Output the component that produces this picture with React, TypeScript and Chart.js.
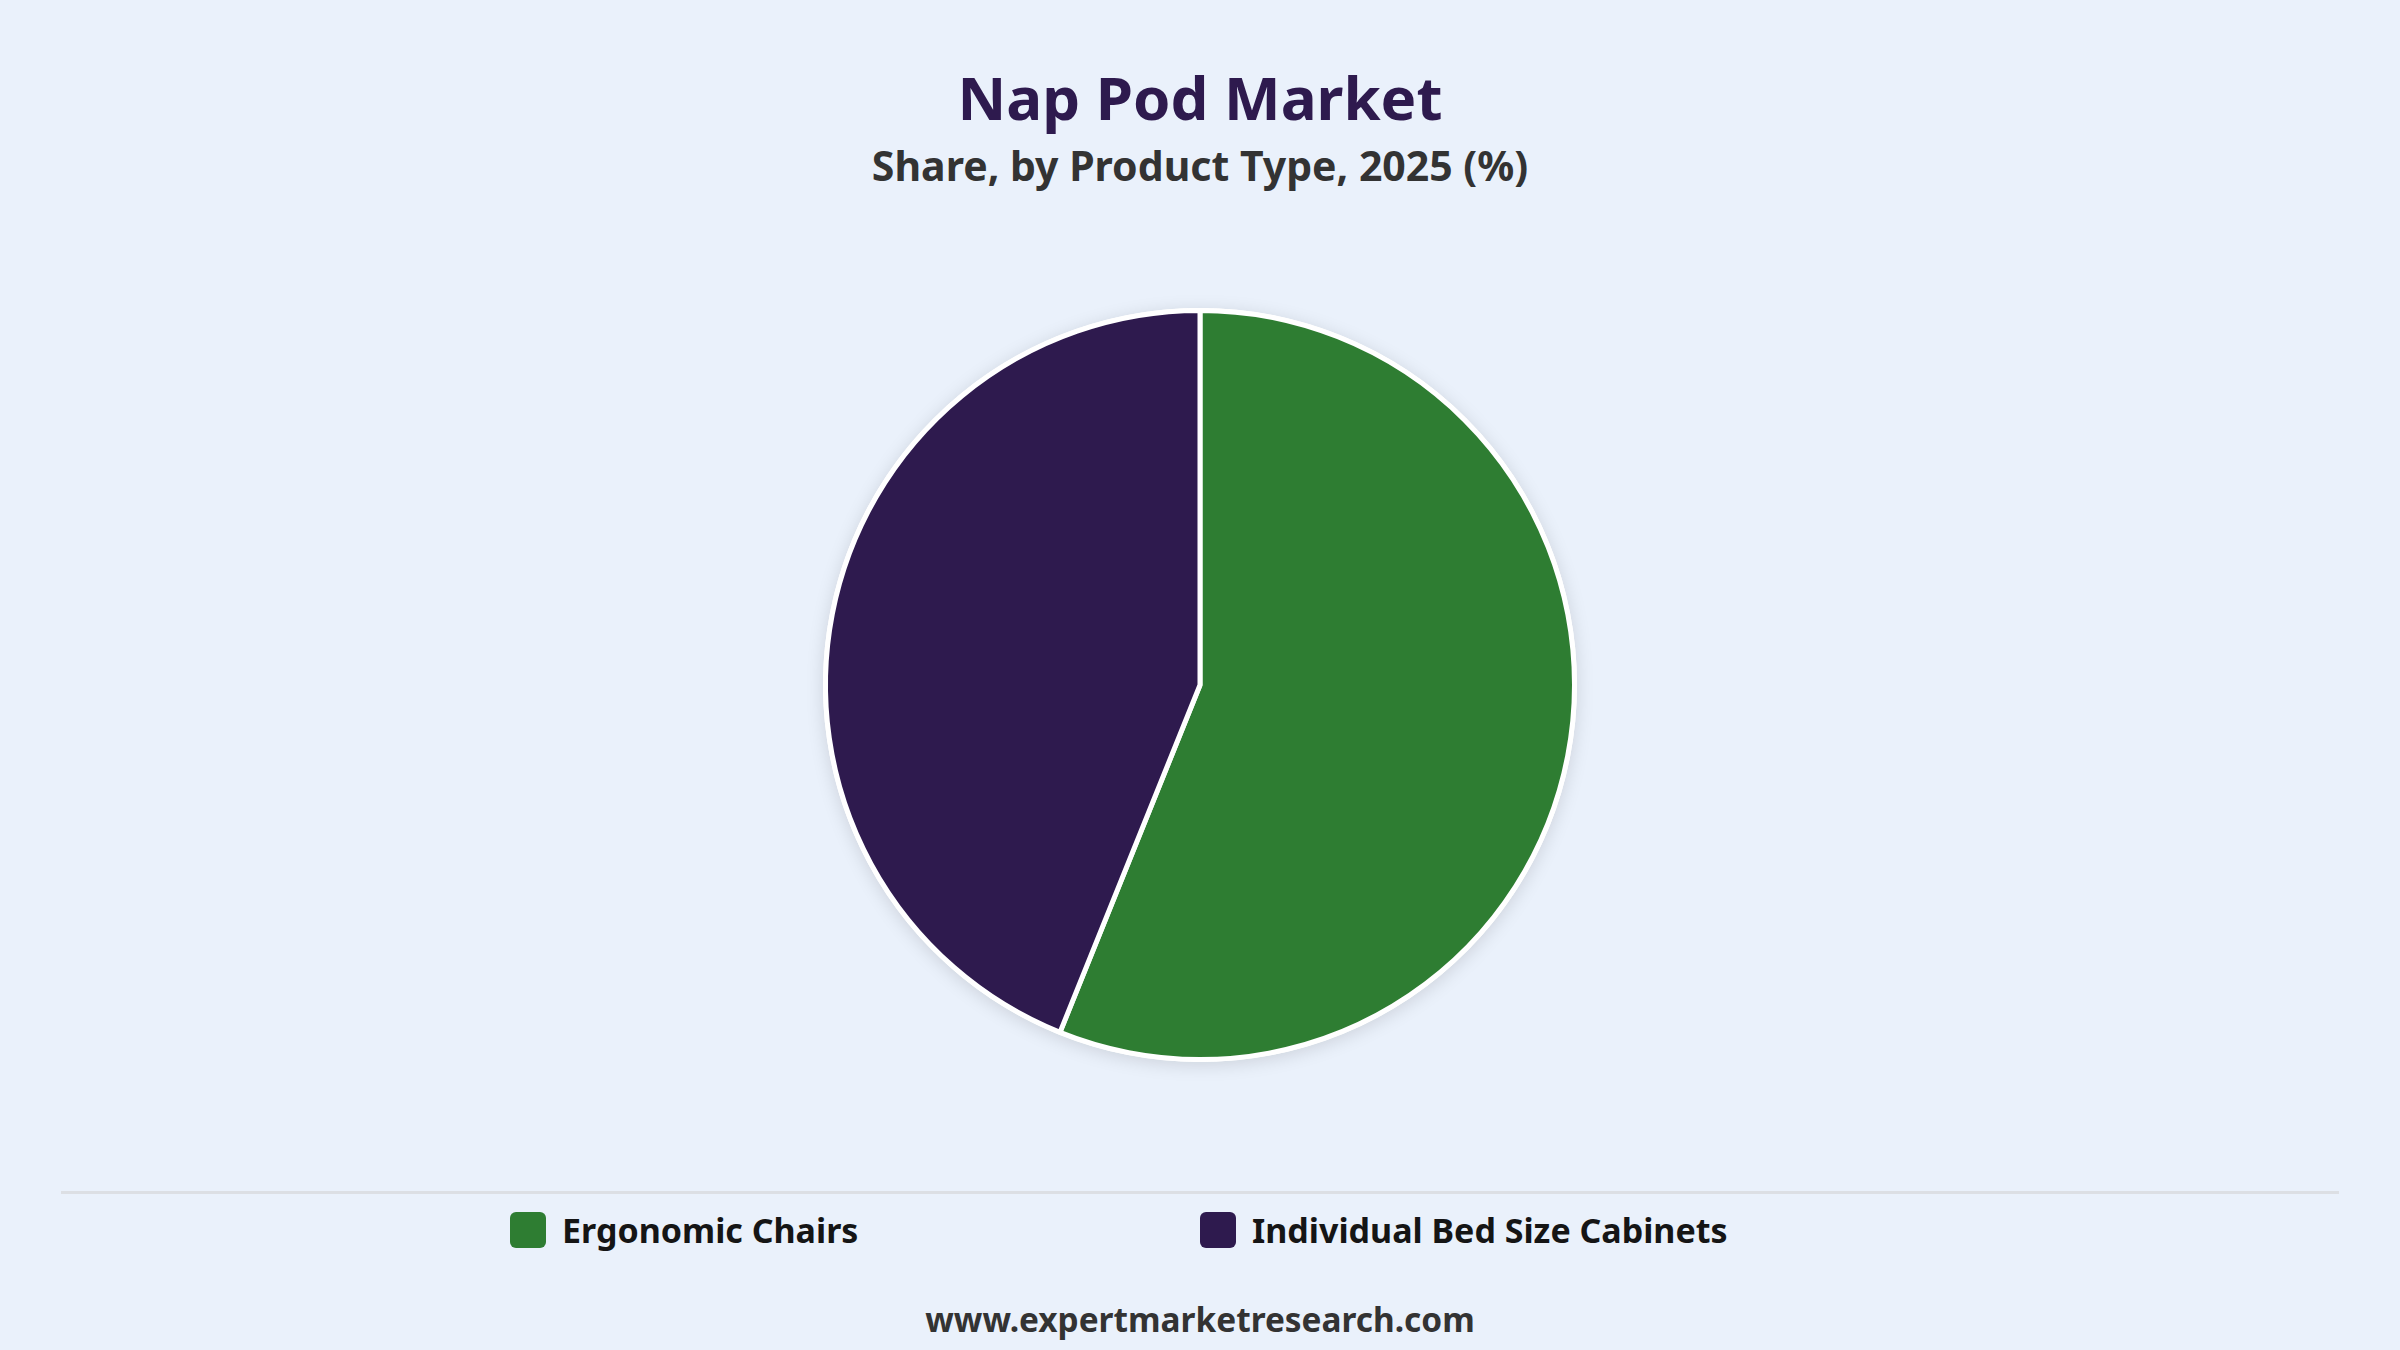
import React, { useEffect, useRef } from "react";
import { Chart, registerables, Plugin } from "chart.js";

Chart.register(...registerables);

const categories = ["Ergonomic Chairs", "Individual Bed Size Cabinets"];
const shareValues = [56.1, 43.9];
const sliceColors = ["#2e7d32", "#2e1a4e"];

const titleText = "Nap Pod Market";
const subtitleText = "Share, by Product Type, 2025 (%)";
const sourceText = "www.expertmarketresearch.com";

const FONT = "'Noto Sans', 'Open Sans', sans-serif";

// soft white disc with a shadow under the slices
const pieShadow: Plugin<"pie"> = {
  id: "pieShadow",
  beforeDatasetsDraw(chart) {
    const arc: any = chart.getDatasetMeta(0).data[0];
    if (!arc) return;
    const { ctx } = chart;
    ctx.save();
    ctx.shadowColor = "rgba(0, 0, 0, 0.13)";
    ctx.shadowBlur = 18;
    ctx.shadowOffsetY = 3;
    ctx.fillStyle = "#ffffff";
    ctx.beginPath();
    ctx.arc(arc.x, arc.y, arc.outerRadius + 2.5, 0, Math.PI * 2);
    ctx.fill();
    ctx.restore();
  },
};

const PieChart: React.FC = () => {
  const canvasRef = useRef<HTMLCanvasElement | null>(null);
  const chartRef = useRef<Chart<"pie"> | null>(null);

  useEffect(() => {
    if (!canvasRef.current) return;
    if (chartRef.current) chartRef.current.destroy();

    chartRef.current = new Chart(canvasRef.current, {
      type: "pie",
      data: {
        labels: categories,
        datasets: [
          {
            data: shareValues,
            backgroundColor: sliceColors,
            borderColor: "#ffffff",
            borderWidth: 5,
          },
        ],
      },
      options: {
        animation: false,
        responsive: true,
        maintainAspectRatio: false,
        layout: { padding: 23 },
        plugins: {
          legend: { display: false },
          tooltip: { enabled: false },
        },
      },
      plugins: [pieShadow],
    });

    return () => {
      if (chartRef.current) {
        chartRef.current.destroy();
        chartRef.current = null;
      }
    };
  }, []);

  return (
    <div style={{ position: "absolute", left: 800, top: 285, width: 800, height: 800 }}>
      <canvas ref={canvasRef}></canvas>
    </div>
  );
};

const App: React.FC = () => {
  return (
    <div
      style={{
        position: "fixed",
        inset: 0,
        background: "#eaf1fb",
        fontFamily: FONT,
        overflow: "hidden",
      }}
    >
      <div
        style={{
          position: "absolute",
          top: 67,
          width: "100%",
          textAlign: "center",
          fontSize: 60,
          lineHeight: "60px",
          fontWeight: 700,
          color: "#2e1a4e",
        }}
      >
        {titleText}
      </div>
      <div
        style={{
          position: "absolute",
          top: 145,
          width: "100%",
          textAlign: "center",
          fontSize: 41,
          lineHeight: "40px",
          fontWeight: 700,
          color: "#333333",
        }}
      >
        {subtitleText}
      </div>

      <PieChart />

      <div
        style={{
          position: "absolute",
          left: 61,
          width: 2278,
          top: 1191,
          height: 3,
          background: "#dcdfe4",
        }}
      />

      <div
        style={{
          position: "absolute",
          top: 1212,
          left: 510,
          display: "grid",
          gridTemplateColumns: "690px 690px",
        }}
      >
        {categories.map((name, i) => (
          <div key={name} style={{ display: "flex", alignItems: "center", height: 36 }}>
            <span
              style={{
                width: 36,
                height: 36,
                borderRadius: 6,
                background: sliceColors[i],
                marginRight: 16,
                flex: "none",
              }}
            />
            <span style={{ fontSize: 34, fontWeight: 700, color: "#151515", whiteSpace: "nowrap" }}>
              {name}
            </span>
          </div>
        ))}
      </div>

      <div
        style={{
          position: "absolute",
          top: 1299,
          width: "100%",
          textAlign: "center",
          fontSize: 33.4,
          lineHeight: "40px",
          fontWeight: 700,
          color: "#333333",
        }}
      >
        {sourceText}
      </div>
    </div>
  );
};

export default App;
